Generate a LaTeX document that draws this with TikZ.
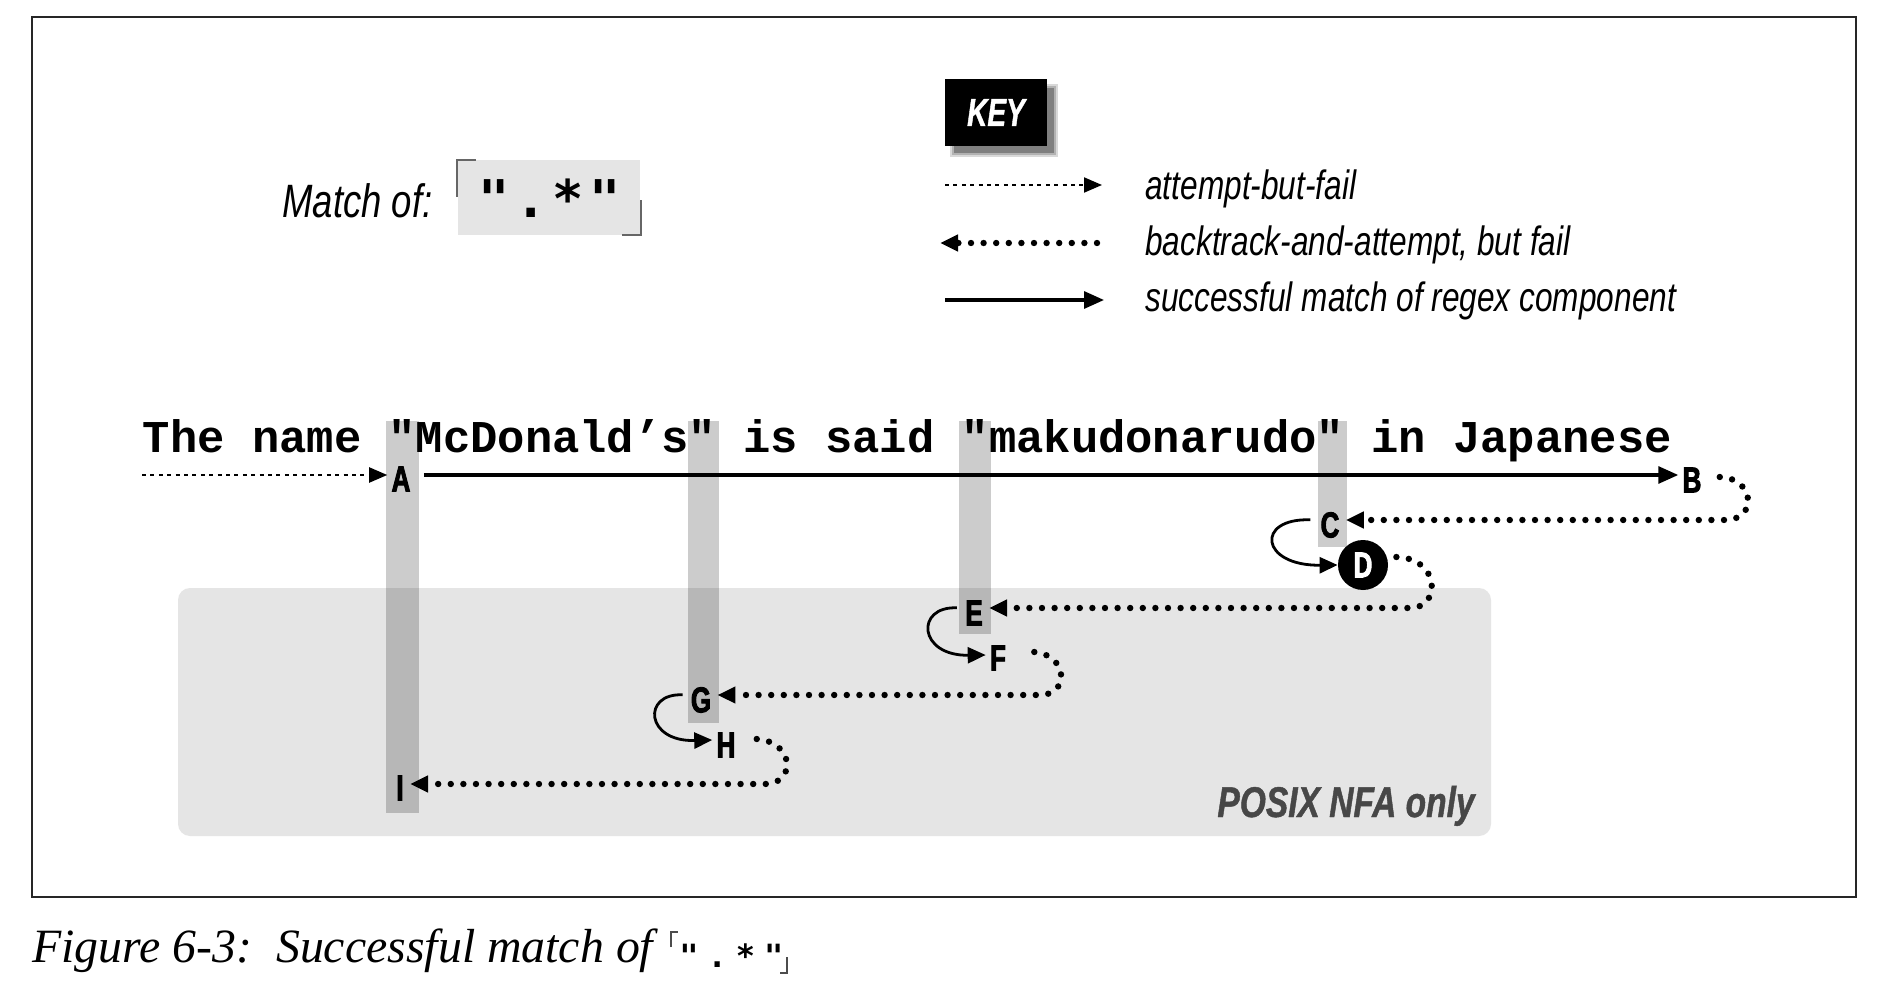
\documentclass[tikz,border=0pt]{standalone}
\usepackage{fontspec}
\usetikzlibrary{arrows.meta}
\newfontfamily\mymono{Liberation Mono}
\newfontfamily\myrx{DejaVu Sans Mono Bold}
\newfontfamily\mycond[FakeStretch=0.771]{Liberation Sans Italic}
\newfontfamily\mymatch[FakeStretch=0.78]{Liberation Sans Italic}
\newfontfamily\lblfont[FakeStretch=0.72, FakeBold=2.5]{Liberation Sans Bold}
\newfontfamily\keyfont[FakeStretch=0.72, FakeBold=1]{Liberation Sans Bold Italic}
\newfontfamily\posixfont[FakeStretch=0.78, FakeBold=1]{Liberation Sans Bold Italic}
\newfontfamily\myserif{Liberation Serif Italic}
\tikzset{
  lbl/.style={font=\lblfont\fontsize{18}{18}\selectfont, inner xsep=2pt, inner ysep=1pt},
  succar/.style={line width=1.6pt, -{Triangle[length=10pt,width=8.5pt]}},
  loopar/.style={line width=1.4pt, -{Triangle[length=9pt,width=8pt]}},
  tryar/.style={line width=1pt, dash pattern=on 2pt off 2.2pt, -{Triangle[length=9pt,width=7.5pt]}},
  backar/.style={line width=3.2pt, line cap=round, dash pattern=on 0pt off 6.3pt, -{Triangle[length=9pt,width=8pt]}},
  colbar/.style={fill=black, fill opacity=0.2},
  legtext/.style={font=\mycond\fontsize{20.5}{20.5}\selectfont, anchor=base west, inner sep=0pt},
  corner/.style={line width=1pt, black!60},
}
\begin{document}
\begin{tikzpicture}[x=0.5pt,y=-0.5pt]
\path[use as bounding box, fill=white] (0,0) rectangle (1886,984);
\draw[line width=1.3pt, black!85] (32,17) rectangle (1856,897);

% POSIX region
\fill[gray!20, rounded corners=6pt] (178,588) rectangle (1491,836);
\node[anchor=base east, inner sep=0pt, font=\posixfont\fontsize{21.5}{21.5}\selectfont, text=black!72] (posix) at (1475,817) {POSIX NFA only};

% columns
\fill[colbar] (386,421) rectangle (419,813);
\fill[colbar] (688,421) rectangle (719,723);
\fill[colbar] (959,421) rectangle (991,634);
\fill[colbar] (1318,421) rectangle (1347,547);

% main string
\node[anchor=base west, inner sep=0pt, font=\mymono\bfseries\fontsize{22.75}{22.75}\selectfont] (str) at (142.5,452) {The name "McDonald’s" is said "makudonarudo" in Japanese};

% letters
\node[lbl] (A) at (401,479) {A};
\node[lbl] (B) at (1692,480) {B};
\node[lbl] (C) at (1330,525) {C};
\node[circle, fill=black, text=white, minimum size=25pt, inner sep=0pt, font=\lblfont\fontsize{18}{18}\selectfont] (D) at (1363,565) {D};
\node[lbl] (E) at (974,613) {E};
\node[lbl] (F) at (998,658) {F};
\node[lbl] (G) at (701,700) {G};
\node[lbl] (H) at (726,745) {H};
\node[lbl] (I) at (400,788) {I};

% connectors
\coordinate (start) at (142,475);
\draw[tryar] (start) -- ([yshift=2pt]A.west);
\draw[succar, shorten <=4.5pt] ([yshift=2pt]A.east) -- ([yshift=2.5pt]B.west);
\draw[backar, shorten >=1pt] ([xshift=7pt,yshift=1.5pt]B.east) .. controls (1755,478) and (1758,520) .. (1725,520) -- ([yshift=2.5pt]C.east);
\draw[loopar, shorten <=3pt] ([yshift=2.5pt]C.west) .. controls (1255,518) and (1260,566) .. (D.west);
\draw[backar, shorten >=1pt] ([xshift=4pt,yshift=4pt]D.east) .. controls (1440,558) and (1442,608) .. (1410,608) -- ([yshift=2.5pt]E.east);
\draw[loopar, shorten <=2pt] ([yshift=2.5pt]E.west) .. controls (915,606) and (918,656) .. ([yshift=1.5pt]F.west);
\draw[backar, shorten >=1pt] ([xshift=12pt,yshift=3pt]F.east) .. controls (1068,655) and (1070,695) .. (1040,695) -- ([yshift=2.5pt]G.east);
\draw[loopar, shorten <=2pt] ([yshift=2.5pt]G.west) .. controls (642,693) and (645,742) .. ([yshift=2.5pt]H.west);
\draw[backar, shorten >=1pt] ([xshift=8.5pt,yshift=3pt]H.east) .. controls (795,742) and (796,784) .. (765,784) -- ([yshift=2pt]I.east);

% key
\fill[black!15] (950,84) rectangle (1058,157);
\fill[black!30] (952,86) rectangle (1056,155);
\fill[black!50] (954,88) rectangle (1054,153);
\node[fill=black, text=white, minimum width=51pt, minimum height=33.5pt, inner sep=0pt, font=\keyfont\fontsize{19.5}{19.5}\selectfont] (key) at (996,112.5) {KEY};

\coordinate (k1s) at (945,185); \coordinate (k1e) at (1102,185);
\draw[tryar] (k1s) -- (k1e);
\coordinate (k2s) at (1097,243); \coordinate (k2e) at (940,243);
\draw[backar] (k2s) -- (k2e);
\coordinate (k3s) at (945,300); \coordinate (k3e) at (1104,300);
\draw[succar] (k3s) -- (k3e);
\node[legtext] (t1) at (1145,200) {attempt-but-fail};
\node[legtext] (t2) at (1145,256) {backtrack-and-attempt, but fail};
\node[legtext] (t3) at (1145,312) {successful match of regex component};

% match of
\node[anchor=base east, inner sep=0pt, font=\mymatch\fontsize{23.4}{23.4}\selectfont] (mo) at (433,218) {Match of:};
\fill[gray!20] (458,160) rectangle (640,235);
\draw[corner] (457,197) -- (457,160) -- (476,160);
\draw[corner] (622,235) -- (641,235) -- (641,200);
\node[anchor=base, inner sep=0pt, font=\myrx\fontsize{26}{26}\selectfont\addfontfeature{LetterSpace=11}] (rx) at (550,218) {".*"};

% caption
\node[anchor=base west, inner sep=0pt, font=\myserif\fontsize{23.9}{24}\selectfont] (cap) at (32,962) {Figure 6-3:\hspace{0.5em}Successful match of};
\node[anchor=base west, inner sep=0pt, font=\myrx\fontsize{16}{16}\selectfont\addfontfeature{LetterSpace=28}] (caprx) at (679,967) {".*"};
\draw[corner, black!70] (671,947) -- (671,932) -- (678,932);
\draw[corner, black!70] (780,973) -- (787,973) -- (787,957);
\end{tikzpicture}
\end{document}
